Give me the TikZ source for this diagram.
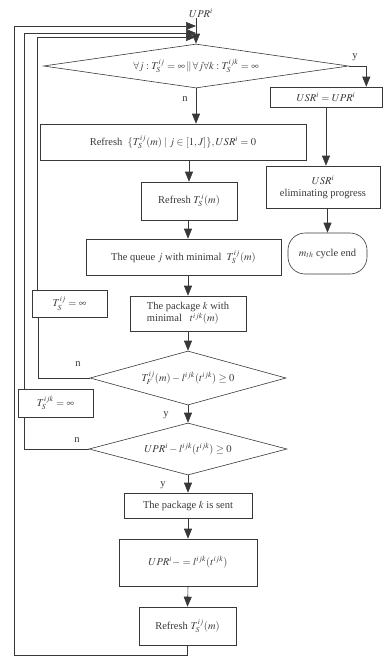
\documentclass[tikz,border=0pt]{standalone}
\usepackage{mathptmx}
\usepackage[no-math]{fontspec}
\setmainfont{Liberation Serif}
\usetikzlibrary{shapes.geometric,arrows.meta,calc}
\colorlet{ink}{black!78}
\begin{document}
\begin{tikzpicture}[x=1pt,y=-1pt,
  every node/.style={text=ink,font=\fontsize{10.5}{12}\selectfont},
  box/.style={draw=ink,line width=0.6pt,inner sep=0pt,align=center},
  dia/.style={draw=ink,line width=0.6pt,diamond,inner sep=0pt},
  lbl/.style={inner sep=0pt},
  ln/.style={draw=ink,line width=0.6pt},
  arr/.style={ln,-{Triangle[length=10pt,width=8pt]}}]
\useasboundingbox (0,0) rectangle (388,659);
% top label
\node[lbl] (upr) at (201,13) {$UPR^i$};
% decisions
\node[dia,minimum width=305,minimum height=44,aspect=6.93] (d1) at (196,66)
  {$\forall j: T_S^{ij}=\infty \,\|\, \forall j \forall k: T_S^{ijk}=\infty$};
\node[dia,minimum width=196,minimum height=54,aspect=3.63] (d2) at (188,378)
  {$T_F^{ij}(m) - l^{ijk}(t^{ijk}) \ge 0$};
\node[dia,minimum width=198,minimum height=52,aspect=3.8] (d3) at (188,449)
  {$UPR^i - l^{ijk}(t^{ijk}) \ge 0$};
% boxes
\node[box,minimum width=112,minimum height=20] (usr) at (326,97) {$USR^i = UPR^i$};
\node[box,minimum width=266,minimum height=36] (r1) at (173,142)
  {Refresh\ \ $\{T_S^{ij}(m)\mid j\in[1,J]\}, USR^i=0$};
\node[box,minimum width=96,minimum height=38] (r2) at (189,201) {Refresh $T_S^{\,i}(m)$};
\node[box,minimum width=114,minimum height=42] (elim) at (323,187)
  {$USR^i$\\eliminating progress};
\node[box,minimum width=79,minimum height=41,rounded corners=17] (end) at (327.5,253.5)
  {$m_{th}$ cycle end};
\node[box,minimum width=195,minimum height=36] (q) at (183.5,257)
  {The queue $j$ with minimal\ \ $T_S^{ij}(m)$};
\node[box,minimum width=75,minimum height=27] (tsij) at (69.5,303.5) {$T_S^{ij}=\infty$};
\node[box,minimum width=116,minimum height=35,align=left] (pk) at (188,313.5)
  {The package $k$ with\\minimal\ \ \ $t^{ijk}(m)$};
\node[box,minimum width=75,minimum height=28] (tsijk) at (55.5,403) {$T_S^{ijk}=\infty$};
\node[box,minimum width=128,minimum height=25] (sent) at (188,505.5) {The package $k$ is sent};
\node[box,minimum width=138,minimum height=47] (upd) at (188,562.5)
  {$UPR^i - = l^{ijk}(t^{ijk})$};
\node[box,minimum width=97,minimum height=38] (r3) at (187.5,626) {Refresh $T_S^{ij}(m)$};
% y/n labels
\node[lbl] (ly1) at (355,57) {y};
\node[lbl] (ln1) at (185,99) {n};
\node[lbl] (ln2) at (78,364) {n};
\node[lbl] (ly2) at (166,415) {y};
\node[lbl] (ln3) at (77,440) {n};
\node[lbl] (ly3) at (163,485) {y};
% join points at the top
\coordinate (t1) at (196,26);
\coordinate (t2) at (196,33);
\coordinate (t3) at (196,37);
\coordinate (c1) at (14,655);
% main flow
\draw[arr] (upr.south -| d1.north) -- (d1.north);
\draw[arr] (d1.south) -- (d1.south |- r1.north);
\draw[arr] (r1.south -| r2.north) -- (r2.north);
\draw[arr] (r2.south -| 188,0) -- (q.north -| 188,0);
\draw[arr] (q.south -| pk.north) -- (pk.north);
\draw[arr] (pk.south) -- (d2.north);
\draw[arr] (d2.south) -- (d3.north);
\draw[arr] (d3.south) -- (sent.north);
\draw[arr] (sent.south) -- (upd.north);
\draw[arr] (upd.south) -- (r3.north);
% right branch
\draw[arr] (d1.east) -| ([xshift=-16]usr.north east);
\draw[arr] (usr.south) -- (usr.south |- elim.north);
\draw[arr] (elim.south -| end.north) -- (end.north);
% loops
\draw[arr] (r3.south) |- (c1) |- (t1);
\draw[ln] (d2.west) -| ([xshift=7]tsij.south west);
\draw[arr] ([xshift=6]tsij.north west) |- (t3);
\draw[ln] (d3.west) -| ([xshift=7]tsijk.south west);
\draw[arr] ([xshift=7]tsijk.north west) |- (t2);
\end{tikzpicture}
\end{document}
